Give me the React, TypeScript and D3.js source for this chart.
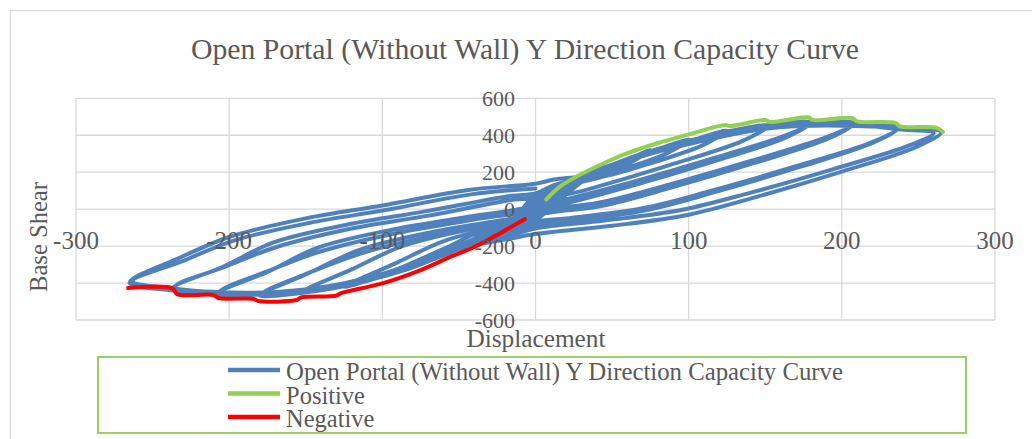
import { useEffect, useRef } from 'react';
import * as d3 from 'd3';

type Pt = [number, number];

// Hysteresis loops (displacement, base shear), one array per amplitude group
const loop25: Pt[] = [
  [0, 0], [7, 50], [16, 110], [25, 160], [9, 80], [0, 55],
  [-8, -20], [-16, -85], [-25, -135], [-10, -70], [0, -40],
];
const loop50: Pt[] = [
  [10, 40], [25, 150], [38, 205], [50, 240], [34, 160], [0, 66],
  [-10, -20], [-25, -110], [-38, -168], [-50, -210], [-25, -95], [0, -17],
];
const loop75: Pt[] = [
  [10, 60], [25, 150], [45, 225], [60, 270], [75, 320], [59, 240], [10, 105], [0, 80],
  [-12, -30], [-28, -125], [-45, -195], [-60, -250], [-75, -295], [-40, -160], [-9, -45], [0, -27],
];
const loop100: Pt[] = [
  [12, 60], [30, 165], [50, 235], [75, 310], [100, 375], [84, 295], [35, 160], [0, 74],
  [-12, -40], [-30, -140], [-55, -225], [-78, -305], [-100, -365], [-60, -215], [-34, -115], [0, -47],
];
const loop125: Pt[] = [
  [14, 50], [32, 165], [55, 250], [80, 320], [100, 368], [125, 425], [109, 345], [60, 210], [0, 66],
  [-12, -45], [-30, -145], [-55, -230], [-80, -315], [-100, -365], [-125, -420], [-90, -288], [-59, -170], [-10, -72], [0, -58],
];
const loop152: Pt[] = [
  [15, 45], [35, 175], [60, 268], [100, 365], [125, 420], [152, 452], [136, 372], [87, 237], [32, 102], [0, 33],
  [-12, -65], [-30, -148], [-55, -228], [-80, -310], [-100, -362], [-127, -420], [-152, -448], [-120, -326], [-86, -198], [-37, -100], [0, -48],
];
const loop180: Pt[] = [
  [15, 55], [35, 180], [60, 272], [100, 370], [140, 440], [180, 470], [164, 390], [115, 255], [60, 120], [15, 22], [0, 4],
  [-12, -80], [-30, -150], [-60, -245], [-100, -365], [-140, -438], [-180, -468], [-150, -354], [-114, -218], [-65, -120], [-15, -50], [0, -27],
  [14, 70], [35, 175], [60, 262], [100, 358], [140, 428], [178, 458], [162, 395], [113, 268], [58, 135], [13, 40], [0, 22],
  [-12, -70], [-30, -145], [-60, -238], [-100, -355], [-140, -428], [-178, -455], [-148, -345], [-112, -235], [-63, -138], [-13, -66], [0, -48],
];
const loop208: Pt[] = [
  [15, 55], [35, 178], [60, 270], [100, 368], [150, 448], [180, 462], [208, 465], [192, 385], [143, 250], [88, 115], [43, 17], [0, -35],
  [-15, -110], [-35, -168], [-65, -258], [-100, -365], [-150, -448], [-180, -462], [-208, -458], [-175, -340], [-142, -208], [-93, -110], [-43, -40], [0, 25],
  [12, 100], [35, 172], [60, 260], [100, 355], [150, 438], [180, 452], [206, 452], [190, 390], [141, 262], [86, 130], [41, 35], [0, -18],
  [-15, -100], [-35, -162], [-65, -250], [-100, -352], [-150, -438], [-180, -452], [-206, -446], [-173, -330], [-140, -228], [-91, -130], [-41, -58], [0, 8],
];
const loop237: Pt[] = [
  [12, 90], [35, 180], [60, 270], [100, 365], [150, 445], [208, 460], [237, 442], [221, 362], [172, 227], [117, 92], [72, -6], [22, -66], [0, -86],
  [-18, -130], [-40, -180], [-70, -272], [-100, -360], [-150, -445], [-208, -458], [-237, -430], [-204, -312], [-171, -180], [-122, -82], [-72, -12], [-16, 72], [0, 85],
  [12, 130], [35, 178], [60, 262], [100, 352], [150, 435], [208, 450], [235, 430], [219, 360], [170, 232], [115, 100], [70, 5], [20, -50], [0, -68],
  [-18, -122], [-40, -172], [-70, -262], [-100, -350], [-150, -435], [-208, -448], [-235, -418], [-202, -310], [-169, -205], [-120, -105], [-70, -35], [-14, 52], [0, 62],
];
const loop265: Pt[] = [
  [12, 120], [35, 182], [60, 272], [100, 368], [150, 448], [208, 462], [237, 440], [265, 418], [249, 338], [200, 203], [145, 68], [100, -30], [50, -90], [0, -135],
  [-20, -165], [-45, -205], [-75, -290], [-110, -385], [-160, -452], [-208, -462], [-237, -440], [-265, -398], [-232, -262], [-199, -148], [-150, -50], [-100, 20], [-44, 104], [0, 138],
  [12, 160], [35, 185], [60, 265], [100, 360], [150, 440], [208, 455], [237, 432], [260, 412], [244, 345], [195, 218], [140, 88], [95, -5], [45, -62], [0, -105],
  [-20, -150], [-45, -198], [-75, -282], [-110, -375], [-160, -443], [-208, -452], [-237, -430], [-263, -390], [-230, -280], [-197, -170], [-148, -75], [-98, -5], [-42, 80], [0, 112],
];

const capacityCurve: Pt[] = [
  ...loop25, ...loop50, ...loop75, ...loop100, ...loop125,
  ...loop152, ...loop180, ...loop208, ...loop237, ...loop265,
];

const positiveEnvelope: Pt[] = [
  [7, 52], [16, 122], [30, 190], [45, 250], [60, 303], [80, 358], [99, 402], [124, 456], [127, 450],
  [150, 482], [153, 472], [178, 497], [181, 483], [207, 493], [210, 475], [235, 467], [238, 448],
  [262, 440], [266, 418],
];

const negativeEnvelope: Pt[] = [
  [-7, -54], [-23, -130], [-40, -205], [-55, -256], [-75, -330], [-100, -402], [-127, -455], [-130, -468],
  [-153, -478], [-156, -492], [-181, -497], [-184, -486], [-207, -481], [-210, -465], [-234, -460],
  [-237, -428], [-266, -427],
];

const xTicks = [-300, -200, -100, 0, 100, 200, 300];
const yTicks = [-600, -400, -200, 0, 200, 400, 600];
const seriesNames = ['Open Portal (Without Wall) Y Direction Capacity Curve', 'Positive', 'Negative'];
const seriesColors = ['#4F81BD', '#92D050', '#FF0000'];

const FONT = "'Liberation Serif', 'DejaVu Serif', serif";
const TEXT = '#595959';

const App = () => {
  const svgRef = useRef<SVGSVGElement>(null);
  const width = 1032;
  const height = 439;

  useEffect(() => {
    if (!svgRef.current) return;
    const svg = d3.select(svgRef.current);
    svg.selectAll('*').remove();

    const x = d3.scaleLinear().domain([-300, 300]).range([76, 995]);
    const y = d3.scaleLinear().domain([-600, 600]).range([320, 98.3]);

    // chart frame
    svg.append('rect')
      .attr('x', 10.5).attr('y', 10.5)
      .attr('width', 1040).attr('height', 460)
      .attr('fill', '#fff')
      .attr('stroke', '#d9d9d9')
      .attr('stroke-width', 1.3);

    // gridlines
    const grid = svg.append('g').attr('stroke', '#d9d9d9').attr('stroke-width', 1.3);
    grid.selectAll('.vg')
      .data(xTicks)
      .join('line')
      .attr('x1', d => x(d)).attr('x2', d => x(d))
      .attr('y1', y(600)).attr('y2', y(-600));
    grid.selectAll('.hg')
      .data(yTicks)
      .join('line')
      .attr('x1', x(-300)).attr('x2', x(300))
      .attr('y1', d => y(d)).attr('y2', d => y(d));

    const line = d3.line<Pt>()
      .x(d => x(d[0]))
      .y(d => y(d[1]))
      .curve(d3.curveCatmullRom.alpha(0.5));

    [capacityCurve, positiveEnvelope, negativeEnvelope].forEach((data, i) => {
      svg.append('path')
        .datum(data)
        .attr('fill', 'none')
        .attr('stroke', seriesColors[i])
        .attr('stroke-width', 4)
        .attr('stroke-linejoin', 'round')
        .attr('stroke-linecap', 'round')
        .attr('d', line);
    });

    // tick labels
    svg.append('g')
      .selectAll('text')
      .data(xTicks)
      .join('text')
      .attr('x', d => x(d))
      .attr('y', 248.5)
      .attr('text-anchor', 'middle')
      .style('font-family', FONT)
      .style('font-size', '25px')
      .style('fill', TEXT)
      .text(d => d);

    svg.append('g')
      .selectAll('text')
      .data(yTicks)
      .join('text')
      .attr('x', 515)
      .attr('y', d => y(d) + 7.5)
      .attr('text-anchor', 'end')
      .style('font-family', FONT)
      .style('font-size', '22px')
      .style('fill', TEXT)
      .text(d => d);

    // title
    svg.append('text')
      .attr('x', 525)
      .attr('y', 59)
      .attr('text-anchor', 'middle')
      .attr('textLength', 668)
      .attr('lengthAdjust', 'spacingAndGlyphs')
      .style('font-family', FONT)
      .style('font-size', '30px')
      .style('fill', TEXT)
      .text('Open Portal (Without Wall) Y Direction Capacity Curve');

    // axis titles
    svg.append('text')
      .attr('transform', 'translate(46.5,237) rotate(-90)')
      .attr('text-anchor', 'middle')
      .attr('textLength', 110)
      .attr('lengthAdjust', 'spacingAndGlyphs')
      .style('font-family', FONT)
      .style('font-size', '25px')
      .style('fill', TEXT)
      .text('Base Shear');

    svg.append('text')
      .attr('x', 536)
      .attr('y', 347)
      .attr('text-anchor', 'middle')
      .attr('textLength', 139)
      .attr('lengthAdjust', 'spacingAndGlyphs')
      .style('font-family', FONT)
      .style('font-size', '25px')
      .style('fill', TEXT)
      .text('Displacement');

    // legend
    svg.append('rect')
      .attr('x', 98).attr('y', 357)
      .attr('width', 868).attr('height', 76)
      .attr('fill', 'none')
      .attr('stroke', '#9BD164')
      .attr('stroke-width', 2);

    const rows = [380, 403.5, 427];
    const legend = svg.append('g');
    seriesNames.forEach((name, i) => {
      legend.append('line')
        .attr('x1', 228).attr('x2', 280)
        .attr('y1', rows[i] - 10).attr('y2', rows[i] - 10)
        .attr('stroke', seriesColors[i])
        .attr('stroke-width', 4.5);
      const t = legend.append('text')
        .attr('x', 286)
        .attr('y', rows[i])
        .style('font-family', FONT)
        .style('font-size', '24.5px')
        .style('fill', TEXT)
        .text(name);
      if (i === 0) t.attr('textLength', 557).attr('lengthAdjust', 'spacingAndGlyphs');
    });
  }, []);

  return (
    <div style={{ position: 'absolute', left: 0, top: 0, width, height, background: '#fff' }}>
      <svg ref={svgRef} width={width} height={height} style={{ display: 'block' }} />
    </div>
  );
};

export default App;
